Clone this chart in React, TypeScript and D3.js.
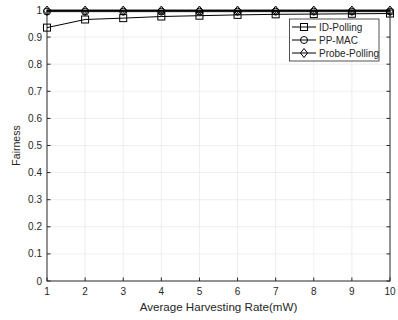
import { useRef, useEffect } from "react";
import * as d3 from "d3";

const rates = [1, 2, 3, 4, 5, 6, 7, 8, 9, 10];
const idPolling = [0.935, 0.965, 0.97, 0.976, 0.979, 0.982, 0.984, 0.985, 0.986, 0.987];
const ppMac = [0.994, 0.994, 0.994, 0.994, 0.994, 0.994, 0.994, 0.994, 0.994, 0.994];
const probePolling = [0.998, 0.998, 0.998, 0.998, 0.998, 0.998, 0.998, 0.998, 0.998, 0.998];
const yTicks = [0, 0.1, 0.2, 0.3, 0.4, 0.5, 0.6, 0.7, 0.8, 0.9, 1];
const seriesNames = ["ID-Polling", "PP-MAC", "Probe-Polling"];

export default function App() {
    const ref = useRef<SVGSVGElement>(null);

    useEffect(() => {
        const svg = d3.select(ref.current);
        svg.selectAll("*").remove();

        const left = 47, right = 390, top = 10, bottom = 281;
        const x = d3.scaleLinear().domain([1, 10]).range([left, right]);
        const y = d3.scaleLinear().domain([0, 1]).range([bottom, top]);
        const axisColor = "#262626";
        const font = "'Liberation Sans', Arial, sans-serif";

        svg.append("rect").attr("width", 398).attr("height", 320).attr("fill", "#fff");

        // grid
        const grid = svg.append("g").attr("stroke", "#e3e3e3").attr("stroke-width", 0.6);
        rates.slice(1, -1).forEach(r => {
            grid.append("line").attr("x1", x(r)).attr("x2", x(r)).attr("y1", top).attr("y2", bottom);
        });
        yTicks.slice(1, -1).forEach(t => {
            grid.append("line").attr("x1", left).attr("x2", right).attr("y1", y(t)).attr("y2", y(t));
        });

        // box + ticks
        svg.append("rect").attr("x", left).attr("y", top).attr("width", right - left).attr("height", bottom - top)
            .attr("fill", "none").attr("stroke", axisColor).attr("stroke-width", 1);
        const ticks = svg.append("g").attr("stroke", axisColor).attr("stroke-width", 1);
        rates.forEach(r => {
            ticks.append("line").attr("x1", x(r)).attr("x2", x(r)).attr("y1", bottom).attr("y2", bottom - 3.5);
            ticks.append("line").attr("x1", x(r)).attr("x2", x(r)).attr("y1", top).attr("y2", top + 3.5);
        });
        yTicks.forEach(t => {
            ticks.append("line").attr("x1", left).attr("x2", left + 3.5).attr("y1", y(t)).attr("y2", y(t));
            ticks.append("line").attr("x1", right).attr("x2", right - 3.5).attr("y1", y(t)).attr("y2", y(t));
        });

        const labels = svg.append("g").attr("font-family", font).attr("font-size", 10).attr("fill", axisColor);
        rates.forEach(r => {
            labels.append("text").attr("x", x(r)).attr("y", bottom + 14).attr("text-anchor", "middle").text(r);
        });
        yTicks.forEach(t => {
            labels.append("text").attr("x", left - 5).attr("y", y(t) + 3.5).attr("text-anchor", "end").text(String(t));
        });

        svg.append("text").attr("x", (left + right) / 2).attr("y", 311).attr("text-anchor", "middle")
            .attr("font-family", font).attr("font-size", 11.6).attr("fill", axisColor)
            .text("Average Harvesting Rate(mW)");
        svg.append("text").attr("transform", `translate(19.5,${(top + bottom) / 2}) rotate(-90)`)
            .attr("text-anchor", "middle").attr("font-family", font).attr("font-size", 10.5).attr("fill", axisColor)
            .text("Fairness");

        const line = d3.line<number>().x((_, i) => x(rates[i])).y(d => y(d));
        const allSeries = [idPolling, ppMac, probePolling];
        const markers = ["square", "circle", "diamond"];

        const drawMarker = (g: d3.Selection<SVGGElement, unknown, null, undefined>, kind: string, cx: number, cy: number) => {
            if (kind === "square") {
                g.append("rect").attr("x", cx - 3.5).attr("y", cy - 3.5).attr("width", 7).attr("height", 7);
            } else if (kind === "circle") {
                g.append("circle").attr("cx", cx).attr("cy", cy).attr("r", 3.5);
            } else {
                g.append("path").attr("d", `M${cx},${cy - 4.5}L${cx + 3.5},${cy}L${cx},${cy + 4.5}L${cx - 3.5},${cy}Z`);
            }
        };

        allSeries.forEach((s, k) => {
            svg.append("path").attr("d", line(s)).attr("fill", "none").attr("stroke", "#000").attr("stroke-width", 1);
            const g = svg.append("g").attr("fill", "none").attr("stroke", "#000").attr("stroke-width", 1);
            s.forEach((v, i) => drawMarker(g, markers[k], x(rates[i]), y(v)));
        });

        // legend
        const lg = svg.append("g");
        lg.append("rect").attr("x", 289.5).attr("y", 19).attr("width", 89.5).attr("height", 42)
            .attr("fill", "#fff").attr("stroke", axisColor).attr("stroke-width", 0.8);
        seriesNames.forEach((name, k) => {
            const ly = 27 + k * 13;
            lg.append("line").attr("x1", 292).attr("x2", 316).attr("y1", ly).attr("y2", ly).attr("stroke", "#000");
            const g = lg.append("g").attr("fill", "none").attr("stroke", "#000");
            drawMarker(g, markers[k], 304, ly);
            lg.append("text").attr("x", 319).attr("y", ly + 3.5).attr("font-family", font).attr("font-size", 10)
                .attr("fill", axisColor).text(name);
        });
    }, []);

    return (
        <svg ref={ref} width={398} height={320} style={{ position: "absolute", left: 0, top: 0 }} />
    );
}
